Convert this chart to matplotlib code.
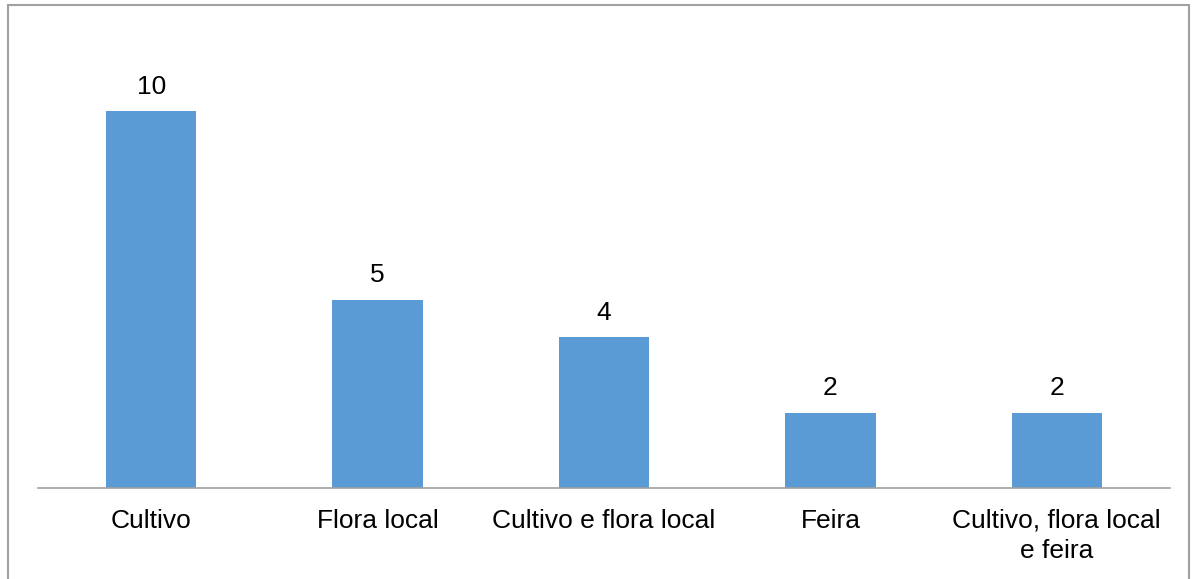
import matplotlib
matplotlib.use('Agg')
import matplotlib.pyplot as plt
from matplotlib.patches import Rectangle

plt.rcParams['font.family'] = ['Liberation Sans', 'DejaVu Sans']

categorias = ['Cultivo', 'Flora local', 'Cultivo e flora local', 'Feira',
              'Cultivo, flora local\ne feira']
valores = [10, 5, 4, 2, 2]

W, H = 1199, 579
fig = plt.figure(figsize=(W / 100, H / 100), dpi=100)
ax = fig.add_axes([38 / W, (H - 488) / H, (1170 - 38) / W, (488 - 36) / H])

x = range(len(categorias))
bars = ax.bar(x, valores, width=0.4, color='#5b9bd5')
ax.bar_label(bars, labels=[str(v) for v in valores], padding=9, fontsize=19)

ax.set_xlim(-0.5, len(categorias) - 0.5)
ax.set_ylim(0, 12)
ax.set_xticks(list(x))
ax.set_xticklabels(categorias, fontsize=19, linespacing=1.3)
ax.tick_params(axis='x', length=0, pad=15)
ax.set_yticks([])
for lado in ['top', 'left', 'right']:
    ax.spines[lado].set_visible(False)
ax.spines['bottom'].set_color('#a0a0a0')
ax.spines['bottom'].set_linewidth(1.2)

# moldura cinza em volta do gráfico
fig.patches.append(Rectangle((8 / W, -0.05), (1189 - 8) / W, (H - 5) / H + 0.05,
                             transform=fig.transFigure, fill=False,
                             edgecolor='#a0a0a0', linewidth=1.5))

fig.savefig('out.png', dpi=100)
